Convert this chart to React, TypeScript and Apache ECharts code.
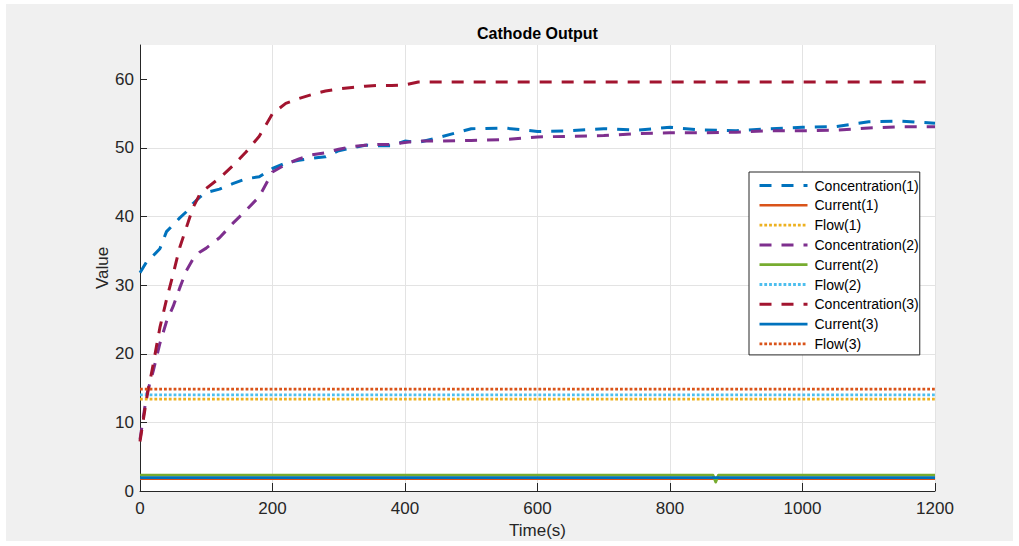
import React, { useEffect, useRef } from "react";
import * as echarts from "echarts";

// ---- data ----
const TIME = [0, 10, 20, 30, 40, 50, 60, 70, 80, 90, 100, 120, 140, 160, 180, 200, 220, 240, 260, 280, 300, 320, 340, 360, 380, 400, 420, 450, 500, 550, 600, 650, 700, 750, 800, 850, 900, 950, 1000, 1050, 1100, 1150, 1200];
const CONC1 = [31.8, 33.4, 34.3, 35.3, 37.8, 38.8, 39.8, 40.7, 41.9, 42.8, 43.5, 44.0, 44.8, 45.5, 45.8, 47.0, 47.8, 48.2, 48.5, 48.7, 49.6, 50.0, 50.4, 50.3, 50.3, 51.0, 50.8, 51.5, 52.8, 52.9, 52.4, 52.5, 52.8, 52.6, 53.0, 52.6, 52.5, 52.8, 53.0, 53.1, 53.8, 53.9, 53.6];
const CONC2 = [7.5, 14.0, 17.5, 21.5, 24.7, 26.9, 29.6, 32.1, 33.8, 34.8, 35.4, 36.9, 39.0, 40.9, 42.9, 46.5, 47.6, 48.4, 49.0, 49.3, 49.8, 50.2, 50.4, 50.5, 50.5, 50.8, 51.0, 51.0, 51.1, 51.2, 51.6, 51.7, 51.8, 52.1, 52.2, 52.2, 52.3, 52.5, 52.5, 52.6, 52.9, 53.1, 53.1];
const CONC3 = [7.2, 13.5, 18.5, 23.8, 27.9, 31.6, 35.5, 38.4, 41.3, 43.2, 44.1, 45.6, 47.4, 49.4, 51.7, 55.0, 56.5, 57.2, 57.8, 58.3, 58.6, 58.8, 59.0, 59.1, 59.1, 59.2, 59.6, 59.6, 59.6, 59.6, 59.6, 59.6, 59.6, 59.6, 59.6, 59.6, 59.6, 59.6, 59.6, 59.6, 59.6, 59.6, 59.6];

const CURRENT_T = [0, 1200];
const CURRENT1 = [1.8, 1.8];
const CURRENT2_T = [0, 865, 869, 873, 1200];
const CURRENT2 = [2.3, 2.3, 1.3, 2.3, 2.3];
const CURRENT3 = [1.95, 1.95];

const FLOW_T = [0, 1200];
const FLOW1 = [13.4, 13.4];
const FLOW2 = [14.0, 14.0];
const FLOW3 = [14.85, 14.85];

const X_TICKS = [0, 200, 400, 600, 800, 1000, 1200];
const Y_TICKS = [0, 10, 20, 30, 40, 50, 60];

const NAMES = ["Concentration(1)", "Current(1)", "Flow(1)", "Concentration(2)", "Current(2)", "Flow(2)", "Concentration(3)", "Current(3)", "Flow(3)"];
const COLORS = ["#0072BD", "#D95319", "#EDB120", "#7E2F8E", "#77AC30", "#4DBEEE", "#A2142F", "#0072BD", "#D95319"];

export default function App() {
  const ref = useRef<HTMLDivElement>(null);
  useEffect(() => {
    const chart = echarts.init(ref.current!, null, { renderer: "svg" });
    const font = "'Liberation Sans', Arial, Helvetica, sans-serif";
    const pairs = (t: number[], v: number[]) => t.map((x, i) => [x, v[i]]);
    const DASH = [12, 10];
    const DOT = [2.8, 2.0];
    const mk = (i: number, t: number[], v: number[], type: any, width: number) => ({
      type: "line",
      name: NAMES[i],
      data: pairs(t, v),
      symbol: "none",
      showSymbol: false,
      silent: true,
      color: COLORS[i],
      itemStyle: { color: COLORS[i] },
      lineStyle: { color: COLORS[i], width, type, cap: "butt", join: "round" },
    });
    const axisColor = "#262626";
    chart.setOption({
      animation: false,
      backgroundColor: "#f0f0f0",
      title: {
        text: "Cathode Output",
        left: 531.5,
        textAlign: "center",
        top: 21,
        padding: 0,
        textStyle: { fontFamily: font, fontSize: 16, fontWeight: "bold", color: "#000" },
      },
      grid: {
        left: 134,
        right: 78,
        top: 41,
        bottom: 50,
        show: true,
        backgroundColor: "#ffffff",
        borderWidth: 0,
        containLabel: false,
        outerBoundsMode: "none",
      },
      legend: {
        orient: "vertical",
        left: 743,
        top: 168,
        itemWidth: 48,
        itemHeight: 14,
        itemGap: 5.8,
        padding: [6.5, 1, 4, 9],
        backgroundColor: "#ffffff",
        borderColor: axisColor,
        borderWidth: 1,
        borderRadius: 0,
        selectedMode: false,
        itemStyle: { opacity: 0, borderWidth: 0 },
        lineStyle: { width: "inherit", type: "inherit", cap: "butt" },
        textStyle: { fontFamily: font, fontSize: 14, color: "#000", lineHeight: 14, padding: [0, 0, 0, 2] },
        data: NAMES,
      },
      xAxis: {
        type: "value",
        min: 0,
        max: 1200,
        interval: 200,
        name: "Time(s)",
        nameLocation: "middle",
        nameGap: 31,
        nameMoveOverlap: false,
        nameTextStyle: { fontFamily: font, fontSize: 17, color: axisColor },
        axisLine: { show: true, lineStyle: { color: axisColor, width: 1 } },
        axisTick: { show: true, inside: true, length: 8, lineStyle: { color: axisColor }, customValues: X_TICKS },
        axisLabel: { fontFamily: font, fontSize: 17, color: axisColor, margin: 9, customValues: X_TICKS, formatter: (v: number) => String(v) },
        splitLine: { show: true, showMinLine: false, lineStyle: { color: "#e3e3e3", width: 1 } },
      },
      yAxis: {
        type: "value",
        min: 0,
        max: 65,
        interval: 10,
        name: "Value",
        nameLocation: "middle",
        nameGap: 29,
        nameMoveOverlap: false,
        nameTextStyle: { fontFamily: font, fontSize: 17, color: axisColor },
        axisLine: { show: true, lineStyle: { color: axisColor, width: 1 } },
        axisTick: { show: true, inside: true, length: 7, lineStyle: { color: axisColor }, customValues: Y_TICKS },
        axisLabel: { fontFamily: font, fontSize: 17, color: axisColor, margin: 6, customValues: Y_TICKS, formatter: (v: number) => String(v) },
        splitLine: { show: true, showMinLine: false, showMaxLine: false, lineStyle: { color: "#e3e3e3", width: 1 } },
      },
      series: [
        mk(0, TIME, CONC1, DASH, 3),
        mk(1, CURRENT_T, CURRENT1, "solid", 2.5),
        mk(2, FLOW_T, FLOW1, DOT, 2.8),
        mk(3, TIME, CONC2, DASH, 3),
        mk(4, CURRENT2_T, CURRENT2, "solid", 2.8),
        mk(5, FLOW_T, FLOW2, DOT, 2.8),
        mk(6, TIME, CONC3, DASH, 3),
        mk(7, CURRENT_T, CURRENT3, "solid", 2.8),
        mk(8, FLOW_T, FLOW3, DOT, 2.8),
      ],
    });
    return () => chart.dispose();
  }, []);
  return (
    <div style={{ position: "absolute", left: 0, top: 0, width: 1019, height: 546, background: "#ffffff" }}>
      <div ref={ref} style={{ position: "absolute", left: 6, top: 4, width: 1007, height: 537 }} />
    </div>
  );
}
